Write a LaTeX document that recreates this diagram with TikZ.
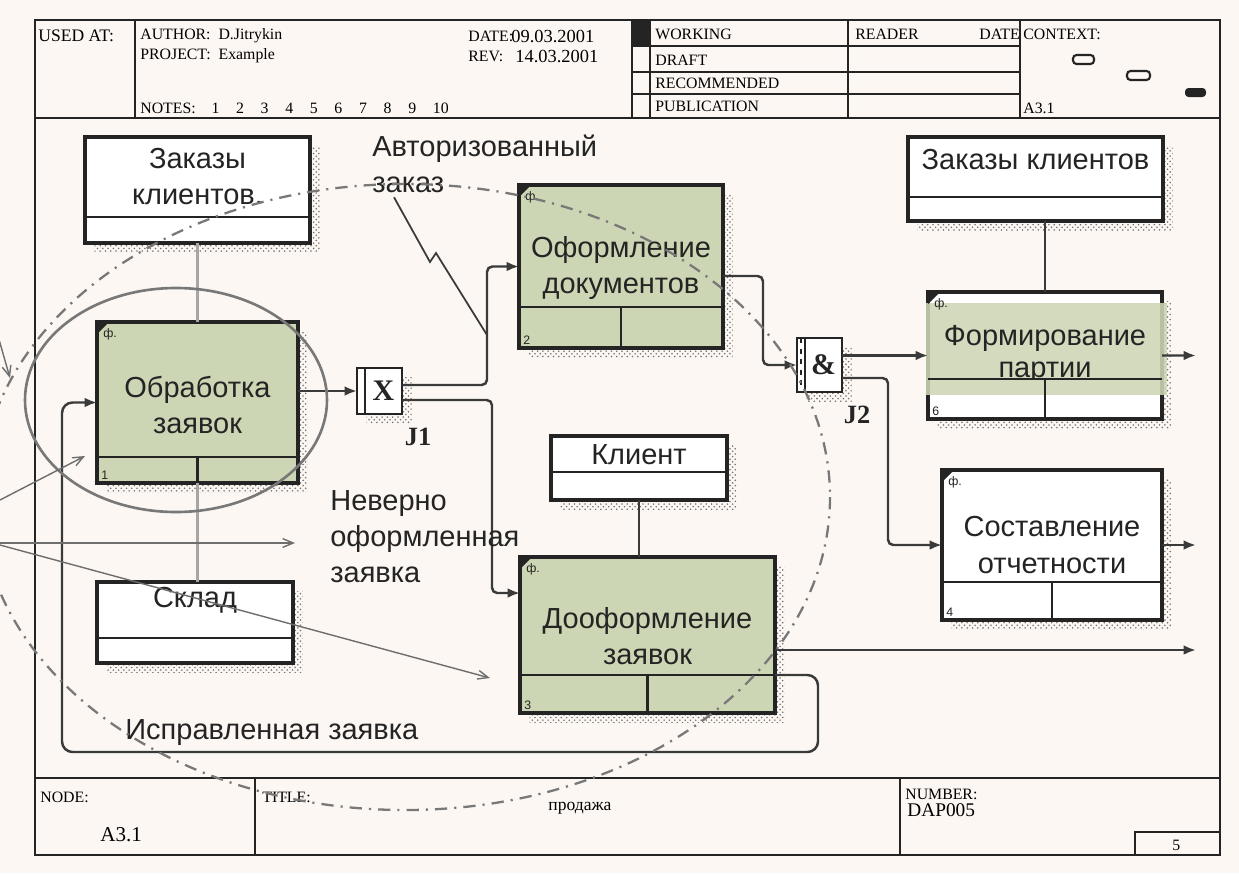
\documentclass[tikz,border=0pt]{standalone}
\usepackage{fontspec}
\setmainfont{Liberation Serif}
\newfontfamily\boxfont{Liberation Sans}
\usetikzlibrary{arrows.meta,positioning,fit,patterns,calc,shadows}

\definecolor{paper}{RGB}{252,247,243}
\definecolor{actgreen}{RGB}{205,214,180}
\definecolor{ink}{RGB}{36,36,36}
\definecolor{wirec}{RGB}{58,58,58}
\definecolor{notec}{RGB}{110,110,110}
\definecolor{ringc}{RGB}{120,120,120}

\tikzset{
  frameline/.style={draw=ink, line width=1.4pt},
  cellline/.style={draw=ink, line width=0.8pt},
  boxline/.style={draw=ink, line width=1.6pt},
  hdr/.style={font=\fontsize{9}{10.5}\selectfont, text=black, inner sep=0pt, anchor=west},
  dropped/.style={drop shadow={shadow xshift=5.5pt, shadow yshift=-5.5pt, opacity=1,
      pattern=crosshatch dots, pattern color=gray!90!black}},
  databox/.style={draw=ink, line width=1.8pt, fill=white, inner sep=0pt, outer sep=0pt, dropped},
  actbox/.style={databox, fill=actgreen},
  junc/.style={draw=ink, line width=1.6pt, fill=white, inner sep=0pt, outer sep=0pt, dropped},
  boxtext/.style={font=\boxfont\fontsize{16.5}{20.5}\selectfont, text=ink, align=center, inner sep=0pt},
  lbl/.style={boxtext, align=left, anchor=west},
  tag/.style={font=\boxfont\fontsize{7}{8}\selectfont, text=ink, inner sep=0pt},
  jtext/.style={font=\fontsize{15}{15}\selectfont\bfseries, text=ink, inner sep=0pt},
  jsym/.style={font=\fontsize{17}{17}\selectfont\bfseries, text=ink, inner sep=0pt},
  flow/.style={draw=wirec, line width=1.4pt, rounded corners=3pt, -{Latex[length=7pt,width=5.5pt]}},
  wire/.style={draw=wirec, line width=1.4pt},
  softwire/.style={draw=gray!70, line width=1.2pt},
  noteline/.style={draw=notec, line width=0.8pt, -{Straight Barb[length=6pt,width=5pt]}},
  ring/.style={draw=ringc, line width=1.5pt},
  dashring/.style={draw=ringc, line width=1.3pt, dash pattern=on 7pt off 4pt on 1.2pt off 4pt},
}

\begin{document}
\begin{tikzpicture}[x=0.02cm, y=-0.02cm]
  \useasboundingbox (0,0) rectangle (1239,873);
  \fill[paper] (0,0) rectangle (1239,873);

  % Form frame, header and footer
  \node[hdr] (date) at (468,36) {DATE:};
  \node[hdr, font=\fontsize{10.5}{11}\selectfont] (dateval) at (511,36) {09.03.2001};
  \node[hdr] (rev) at (468,56) {REV:};
  \node[hdr, font=\fontsize{10.5}{11}\selectfont] (revval) at (515,56) {14.03.2001};
  \fill[paper] (632,46) rectangle (650,118);
  \draw[frameline] (35,20) rectangle (1220,855);
  \draw[frameline] (35,118) -- (1220,118);
  \draw[frameline] (35,778) -- (1220,778);
  \draw[cellline] (135,20) -- (135,118);
  \draw[cellline] (632,20) -- (632,118);
  \draw[cellline] (650,20) -- (650,118);
  \draw[cellline] (848,20) -- (848,118);
  \draw[cellline] (1020,20) -- (1020,118);
  \draw[cellline] (632,46) -- (1020,46);
  \draw[cellline] (632,72) -- (1020,72);
  \draw[cellline] (632,94) -- (1020,94);
  \fill[ink] (632,20) rectangle (650,46);
  \draw[cellline] (255,778) -- (255,855);
  \draw[cellline] (900,778) -- (900,855);
  \draw[cellline] (1135,832) rectangle (1220,855);

  \node[hdr, font=\fontsize{10}{11}\selectfont] (usedat) at (38,36) {USED AT:};
  \node[hdr] (author) at (140,36) {AUTHOR:\ \ D.Jitrykin};
  \node[hdr] (project) at (140,56) {PROJECT:\ \ Example};
  \node[hdr] (notes) at (140,108) {NOTES:\hspace{9pt}1\hspace{9.5pt}2\hspace{9.5pt}3\hspace{9.5pt}4\hspace{9.5pt}5\hspace{9.5pt}6\hspace{9.5pt}7\hspace{9.5pt}8\hspace{9.5pt}9\hspace{9.5pt}10};
  \node[hdr] (working) at (655,34) {WORKING};
  \node[hdr] (draft) at (655,60) {DRAFT};
  \node[hdr] (recom) at (655,83) {RECOMMENDED};
  \node[hdr] (publ) at (655,106) {PUBLICATION};
  \node[hdr] (reader) at (855,34) {READER};
  \node[hdr] (rdate) at (979,34) {DATE};
  \node[hdr] (context) at (1023,34) {CONTEXT:};
  \node[hdr] (ctxnode) at (1023,108) {A3.1};
  \draw[cellline, line width=1.2pt, rounded corners=2pt] (1073,55) rectangle (1094,64);
  \draw[cellline, line width=1.2pt, rounded corners=2pt] (1127,71) rectangle (1150,80);
  \fill[ink, rounded corners=2pt] (1185,88) rectangle (1206,97);

  \node[hdr] (nodelbl) at (40,797) {NODE:};
  \node[hdr, font=\fontsize{12}{12}\selectfont] (nodeval) at (100,835) {A3.1};
  \node[hdr] (titlelbl) at (262,797) {TITLE:};
  \node[hdr, font=\fontsize{10}{11}\selectfont] (titleval) at (548,808) {продажа};
  \node[hdr] (numlbl) at (905,794) {NUMBER:};
  \node[hdr, font=\fontsize{11}{11}\selectfont] (numval) at (907,810) {DAP005};
  \node[hdr] (page) at (1172,845) {5};

  % Data boxes
  \node[databox, fit={(85,137) (310,243)}] (zk1) {};
  \node[databox, fit={(908,137) (1163,221)}] (zk2) {};
  \node[databox, fit={(551,436) (727,500)}] (kli) {};
  \node[databox, fit={(97,582) (293,663)}] (skl) {};
  \node[boxtext] (zk1T) at (197.5,177) {Заказы\\клиентов.};
  \node[boxtext] (zk2T) at (1035.5,160) {Заказы клиентов};
  \node[boxtext] (kliT) at (639,455) {Клиент};
  \node[boxtext] (sklT) at (195,600) {Склад};
  \draw[boxline] ($(zk1.south west)+(0,-26)$) -- ($(zk1.south east)+(0,-26)$);
  \draw[boxline] ($(zk2.south west)+(0,-24)$) -- ($(zk2.south east)+(0,-24)$);
  \draw[boxline] ($(kli.south west)+(0,-28)$) -- ($(kli.south east)+(0,-28)$);
  \draw[boxline] ($(skl.south west)+(0,-25)$) -- ($(skl.south east)+(0,-25)$);

  % Activity boxes
  \node[actbox, fit={(97,322) (298,483)}] (obr) {};
  \node[actbox, fit={(519,185) (723,348)}] (ofd) {};
  \node[actbox, fit={(520,557) (775,713)}] (doo) {};
  \node[databox, fit={(942,470) (1162,620)}] (sos) {};
  \node[databox, fit={(928,292) (1162,419)}] (frm) {};
  \fill[actgreen, opacity=0.88] (926,303) rectangle (1167,395);

  \node[boxtext] (obrT) at (197.5,405) {Обработка\\заявок};
  \draw[boxline] ($(obr.south west)+(0,-26)$) -- ($(obr.south east)+(0,-26)$);
  \draw[boxline] ($(obr.south)+(0,-26)$) -- (obr.south);
  \node[tag, anchor=south west] (obrN) at ($(obr.south west)+(4,-3)$) {1};
  \fill[ink] (obr.north west) -- ++(12,0) -- ++(-12,12) -- cycle;
  \node[tag, anchor=north west] (obrF) at ($(obr.north west)+(6,6)$) {ф.};

  \node[boxtext] (ofdT) at (621,268) {Оформление\\документов};
  \draw[boxline] ($(ofd.south west)+(0,-41)$) -- ($(ofd.south east)+(0,-41)$);
  \draw[boxline] ($(ofd.south)+(0,-41)$) -- (ofd.south);
  \node[tag, anchor=south west] (ofdN) at ($(ofd.south west)+(4,-3)$) {2};
  \fill[ink] (ofd.north west) -- ++(12,0) -- ++(-12,12) -- cycle;
  \node[tag, anchor=north west] (ofdF) at ($(ofd.north west)+(6,6)$) {ф.};

  \node[boxtext] (dooT) at (647.5,636) {Дооформление\\заявок};
  \draw[boxline] ($(doo.south west)+(0,-38)$) -- ($(doo.south east)+(0,-38)$);
  \draw[boxline] ($(doo.south)+(0,-38)$) -- (doo.south);
  \node[tag, anchor=south west] (dooN) at ($(doo.south west)+(4,-3)$) {3};
  \fill[ink] (doo.north west) -- ++(12,0) -- ++(-12,12) -- cycle;
  \node[tag, anchor=north west] (dooF) at ($(doo.north west)+(6,6)$) {ф.};

  \node[boxtext] (sosT) at (1052,545) {Составление\\отчетности};
  \draw[boxline] ($(sos.south west)+(0,-38)$) -- ($(sos.south east)+(0,-38)$);
  \draw[boxline] ($(sos.south)+(0,-38)$) -- (sos.south);
  \node[tag, anchor=south west] (sosN) at ($(sos.south west)+(4,-3)$) {4};
  \fill[ink] (sos.north west) -- ++(12,0) -- ++(-12,12) -- cycle;
  \node[tag, anchor=north west] (sosF) at ($(sos.north west)+(6,6)$) {ф.};

  \node[boxtext] (frmT) at (1045,338) {Формирование};
  \begin{scope}
    \clip (928,300) rectangle (1162,378);
    \node[boxtext] (frmT2) at (1045,373) {партии};
  \end{scope}
  \draw[boxline] ($(frm.south west)+(0,-40)$) -- ($(frm.south east)+(0,-40)$);
  \draw[boxline] ($(frm.south)+(0,-40)$) -- (frm.south);
  \node[tag, anchor=south west] (frmN) at ($(frm.south west)+(4,-3)$) {6};
  \fill[ink] (frm.north west) -- ++(12,0) -- ++(-12,12) -- cycle;
  \node[tag, anchor=north west] (frmF) at ($(frm.north west)+(6,6)$) {ф.};

  % Junctions
  \node[junc, fit={(357,368) (402,414)}] (j1) {};
  \draw[boxline, line width=1.1pt] ($(j1.north west)+(8,0)$) -- ($(j1.south west)+(8,0)$);
  \node[jsym] (j1X) at ($(j1.center)+(4,0)$) {X};
  \node[jtext] (j1L) at (418,437) {J1};
  \node[junc, fit={(797,338) (842,392)}] (j2) {};
  \draw[boxline, line width=1.1pt] ($(j2.north west)+(8,0)$) -- ($(j2.south west)+(8,0)$);
  \draw[cellline, dashed] ($(j2.north west)+(4,0)$) -- ($(j2.south west)+(4,0)$);
  \node[jsym] (j2A) at ($(j2.center)+(4,0)$) {\&};
  \node[jtext] (j2L) at (857,415) {J2};

  % Arrows
  \coordinate (b1) at (487,0);
  \coordinate (b2) at (492,0);
  \coordinate (b3) at (763,0);
  \coordinate (b4) at (888,0);
  \coordinate (dooIn) at ($(doo.north west)+(0,36)$);
  \coordinate (ofdOut) at ($(ofd.north east)+(0,91)$);
  \coordinate (dooOut) at ($(doo.north east)+(0,93)$);
  \coordinate (dooBack) at ($(doo.south east)+(0,-38)$);
  \coordinate (out1) at (1196,355.5);
  \coordinate (out2) at (1196,545);
  \coordinate (out3) at (1196,650);
  \coordinate (fbR) at (818,752);
  \coordinate (fbL) at (62,752);

  \draw[softwire] (zk1.south) -- (zk1.south |- obr.north);
  \draw[softwire] (obr.south) -- (obr.south |- skl.north);
  \draw[wire] (kli.south) -- (kli.south |- doo.north);
  \draw[wire] (frm.north |- zk2.south) -- (frm.north);

  \draw[flow] (obr.east |- j1) -- (j1.west);
  \draw[flow] ([yshift=0.12cm]j1.east) -| (b1 |- ofd.west) -- (ofd.west);
  \draw[flow] ([yshift=-0.18cm]j1.east) -| (b2 |- dooIn) -- (dooIn);
  \draw[flow] (ofdOut) -| (b3 |- j2.west) -- (j2.west);
  \draw[flow] (j2.east |- frm.west) -- (frm.west);
  \draw[flow] ([yshift=-0.26cm]j2.east) -| (b4 |- sos.west) -- (sos.west);
  \draw[flow] (frm.east) -- (out1);
  \draw[flow] (sos.east) -- (out2);
  \draw[flow] (dooOut) -- (out3);
  \draw[flow, rounded corners=6pt] (dooBack) -| (fbR) -- (fbL) |- (obr.west);

  % Arrow labels
  \node[lbl] (autlbl) at (372,164) {Авторизованный\\заказ};
  \node[lbl] (nevlbl) at (330,537) {Неверно\\оформленная\\заявка};
  \node[lbl] (isplbl) at (125,733) {Исправленная заявка};
  \coordinate (sqEnd) at (487,335);
  \draw[wire, line width=1pt] ($(autlbl.south west)+(22,4)$) -- (430,262) -- (436,253) -- (sqEnd);

  % Rings and pointers
  \draw[ring] (176,400) ellipse [x radius=151, y radius=112];
  \draw[dashring] (405,497) ellipse [x radius=425, y radius=313];
  \coordinate (n1a) at (-2,336);
  \coordinate (n1b) at (10,378);
  \coordinate (n2a) at (0,500);
  \coordinate (n2b) at (85,456);
  \coordinate (n3a) at (0,543);
  \coordinate (n3b) at (295,543);
  \coordinate (n4a) at (0,545);
  \coordinate (n4b) at (490,678);
  \draw[noteline] (n1a) -- (n1b);
  \draw[noteline] (n2a) -- (n2b);
  \draw[noteline] (n3a) -- (n3b);
  \draw[noteline] (n4a) -- (n4b);

\end{tikzpicture}
\end{document}
